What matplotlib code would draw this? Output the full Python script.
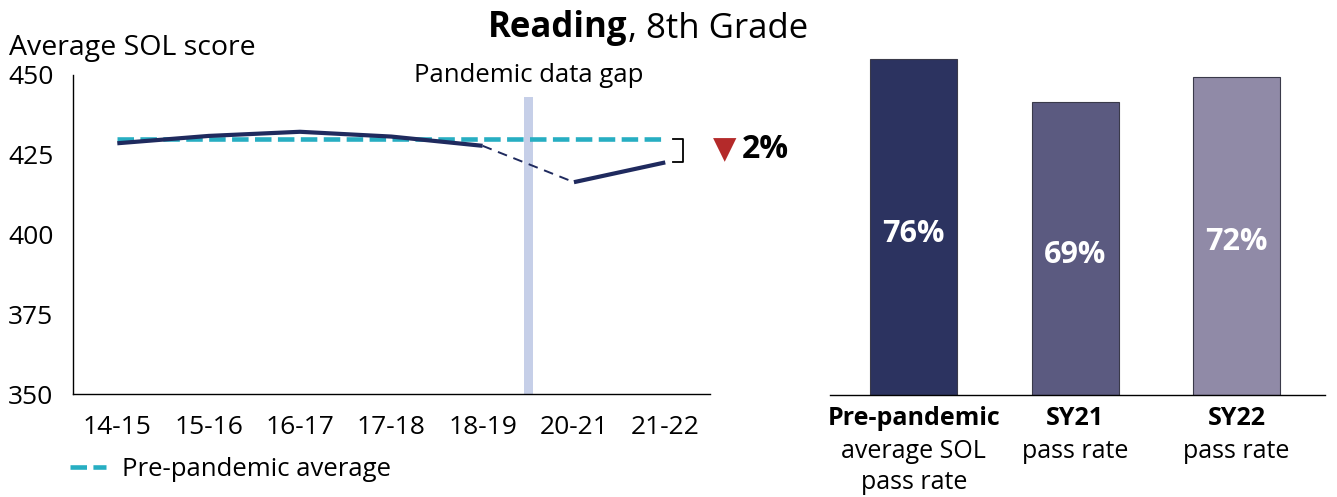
import matplotlib.pyplot as plt
from matplotlib.transforms import blended_transform_factory

plt.rcParams['font.family'] = ['Open Sans', 'DejaVu Sans']

# data
years = ["14-15", "15-16", "16-17", "17-18", "18-19", "20-21", "21-22"]
scores = [428.6, 430.9, 432.2, 430.7, 427.8, 416.4, 422.6]
pre_avg = 430.0
gap_top = 443

bar_heads = ["Pre-pandemic", "SY21", "SY22"]
bar_subs = ["average SOL\npass rate", "pass rate", "pass rate"]
bar_vals = [76, 66.3, 72]
bar_labels = ["76%", "69%", "72%"]
bar_colors = ["#2c3360", "#5b5a80", "#908aa7"]

navy = "#1f2a5e"
teal = "#27aec2"

fig = plt.figure(figsize=(13.37, 4.97), dpi=100)

# ---- left: line chart
ax = fig.add_axes([73 / 1337, 1 - 394 / 497, 637 / 1337, 319 / 497])
ax.set_xlim(-0.485, 6.49)
ax.set_ylim(350, 450)
for s in ["top", "right"]:
    ax.spines[s].set_visible(False)
ax.spines["left"].set_linewidth(1)
ax.spines["bottom"].set_linewidth(1)
ax.set_yticks([350, 375, 400, 425, 450])
ax.set_xticks(range(len(years)))
ax.set_xticklabels(years)
ax.tick_params(axis="y", length=0, pad=14, labelsize=19)
ax.tick_params(axis="x", length=0, pad=15, labelsize=19)

ax.axvspan(4.45, 4.55, ymin=0, ymax=(gap_top - 350) / 100, color="#c6cfe8", lw=0, zorder=1)
ax.text(4.5, 450, "Pandemic data gap", ha="center", va="center", fontsize=18.5, clip_on=False)

avg_line, = ax.plot([0, len(years) - 1], [pre_avg, pre_avg], color=teal, lw=3.3,
                    dashes=(3.6, 1.4), zorder=3)
ax.plot(range(5), scores[:5], color=navy, lw=3, solid_capstyle="butt", zorder=4)
ax.plot([4, 5], scores[4:6], color=navy, lw=1.4, dashes=(5, 3.5), zorder=4)
ax.plot([5, 6], scores[5:], color=navy, lw=3, solid_capstyle="butt", zorder=4)

# bracket showing the drop
last = scores[-1]
ax.plot([6.085, 6.195, 6.195, 6.085], [pre_avg, pre_avg, last, last], color="black",
        lw=1.3, clip_on=False)
drop = round((1 - last / pre_avg) * 100)
ymid = (pre_avg + last) / 2 + 0.2
ax.text(6.655, ymid, "▼", color="#b42a2a", fontsize=22, ha="center", va="center",
        family="DejaVu Sans", clip_on=False)
ax.text(6.835, ymid, f"{drop}%", fontsize=23, fontweight="bold", ha="left", va="center",
        clip_on=False)

fig.text(9 / 1337, 1 - 48 / 497, "Average SOL score", fontsize=20.5, ha="left", va="center")

ax.legend(handles=[avg_line], labels=["Pre-pandemic average"], loc="center left",
          bbox_to_anchor=(70 / 1337, 1 - 469 / 497), bbox_transform=fig.transFigure,
          frameon=False, fontsize=18.5, handlelength=1.4, handletextpad=0.62,
          borderpad=0, borderaxespad=0)

# ---- right: bar chart
bx = fig.add_axes([830 / 1337, 1 - 394.7 / 497, 495 / 1337, 353 / 497])
bx.set_xlim(-0.52, 2.55)
bx.set_ylim(0, 80)
for s in ["top", "right", "left"]:
    bx.spines[s].set_visible(False)
bx.spines["bottom"].set_linewidth(1)
bx.set_xticks([])
bx.set_yticks([])
xs = list(range(len(bar_vals)))
bx.bar(xs, bar_vals, width=0.54, color=bar_colors, edgecolor="#3a3a4a", linewidth=0.8)
for x, v, lab in zip(xs, bar_vals, bar_labels):
    bx.text(x, v / 2 - 1.5, lab, color="white", fontsize=22, fontweight="bold",
            ha="center", va="center")
tr = blended_transform_factory(bx.transData, fig.transFigure)
for x, head, sub in zip(xs, bar_heads, bar_subs):
    bx.text(x, 1 - 406 / 497, head, transform=tr, fontsize=18, fontweight="bold",
            ha="center", va="top")
    bx.text(x, 1 - 439 / 497, sub, transform=tr, fontsize=18, ha="center", va="top",
            linespacing=1.32)

# ---- title, bold part + normal part
t = fig.text(488 / 1337, 1 - 46 / 497, "Reading", fontsize=25, fontweight="bold",
             ha="left", va="bottom")
ax.annotate(", 8th Grade", xy=(1, 0), xycoords=t, fontsize=25, ha="left", va="bottom",
            annotation_clip=False)

fig.savefig("out.png", dpi=100)
